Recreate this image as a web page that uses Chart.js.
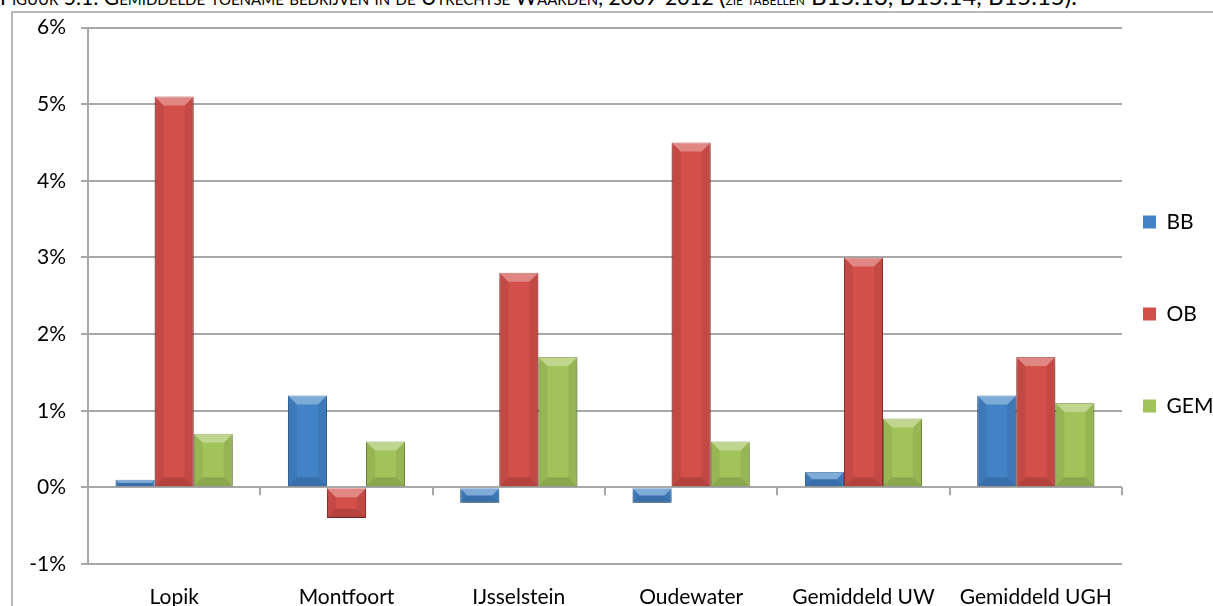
<!DOCTYPE html>
<html>
<head>
<meta charset="utf-8">
<script src="https://cdn.jsdelivr.net/npm/chart.js@4/dist/chart.umd.min.js"></script>
<style>
  html, body { margin: 0; padding: 0; background: #fff; overflow: hidden; width: 1213px; height: 606px; }
  #title {
    position: absolute; left: 0; top: -15px; white-space: nowrap;
    font-family: Lato, sans-serif; font-size: 21px; line-height: 21px;
    font-variant: small-caps; color: #000;
  }
  #title .ref { font-size: 24px; }
  #title .tiny { font-size: 17px; }
  #frame {
    position: absolute; left: 11px; top: 11px; width: 1300px; height: 700px;
    border: 2px solid #b8b8b8;
  }
  #wrap { position: absolute; left: 0; top: 0; width: 1213px; height: 652px; }
</style>
</head>
<body>
<div id="title">Figuur 5.1: Gemiddelde toename bedrijven in de Utrechtse Waarden, 2009-2012 <span class="ref">(<span class="tiny">zie tabellen</span> B15.13, B15.14, B15.15).</span></div>
<div id="frame"></div>
<div id="wrap"><canvas id="toenameChart"></canvas></div>
<script>
// \u200c keeps Lato from joining I and J into one glyph
const categories = ['Lopik', 'Montfoort', 'I\u200cJsselstein', 'Oudewater', 'Gemiddeld UW', 'Gemiddeld UGH']
const bbValues = [0.1, 1.2, -0.2, -0.2, 0.2, 1.2]
const obValues = [5.1, -0.4, 2.8, 4.5, 3.0, 1.7]
const gemValues = [0.7, 0.6, 1.7, 0.6, 0.9, 1.1]
const yMin = -1
const yMax = 6
const yStep = 1

Chart.defaults.font.family = 'Lato, sans-serif'
Chart.defaults.font.size = 21
Chart.defaults.color = '#000'

const gridColor = '#a8a8a8'

// zero line ticks between the categories, bar shadow and bevel
const zeroTicks = {
  id: 'zeroTicks',
  beforeDatasetsDraw(chart) {
    const { ctx, scales: { x, y } } = chart
    const y0 = y.getPixelForValue(0)
    ctx.save()
    ctx.strokeStyle = gridColor
    ctx.lineWidth = 2
    ctx.beginPath()
    for (let i = 0; i < categories.length; i++) {
      const right = i < categories.length - 1
        ? (x.getPixelForValue(i) + x.getPixelForValue(i + 1)) / 2
        : chart.chartArea.right
      ctx.moveTo(Math.round(right), y0)
      ctx.lineTo(Math.round(right), y0 + 8)
    }
    ctx.stroke()
    ctx.restore()
    ctx.save()
    ctx.shadowColor = 'rgba(0,0,0,0.35)'
    ctx.shadowBlur = 8
    ctx.shadowOffsetY = 4
  },
  afterDatasetsDraw(chart) {
    const { ctx } = chart
    ctx.restore()
    chart.data.datasets.forEach((ds, di) => {
      const meta = chart.getDatasetMeta(di)
      meta.data.forEach(bar => {
        const { x, y, base, width } = bar.getProps(['x', 'y', 'base', 'width'], true)
        const l = x - width / 2
        const r = x + width / 2
        const t = Math.min(y, base)
        const b = Math.max(y, base)
        const bv = Math.min(9, (b - t) / 2)
        ctx.save()
        ctx.fillStyle = 'rgba(255,255,255,0.32)'
        ctx.beginPath()
        ctx.moveTo(l, t); ctx.lineTo(r, t); ctx.lineTo(r - bv, t + bv); ctx.lineTo(l + bv, t + bv)
        ctx.fill()
        ctx.fillStyle = 'rgba(0,0,0,0.14)'
        ctx.beginPath()
        ctx.moveTo(l, b); ctx.lineTo(r, b); ctx.lineTo(r - bv, b - bv); ctx.lineTo(l + bv, b - bv)
        ctx.fill()
        ctx.fillStyle = 'rgba(0,0,0,0.07)'
        ctx.beginPath()
        ctx.moveTo(l, t); ctx.lineTo(l + bv, t + bv); ctx.lineTo(l + bv, b - bv); ctx.lineTo(l, b)
        ctx.moveTo(r, t); ctx.lineTo(r - bv, t + bv); ctx.lineTo(r - bv, b - bv); ctx.lineTo(r, b)
        ctx.fill()
        ctx.restore()
      })
    })
  }
}

const ctx = document.getElementById('toenameChart').getContext('2d')

new Chart(ctx, {
  type: 'bar',
  data: {
    labels: categories,
    datasets: [
      { label: 'BB', data: bbValues, backgroundColor: '#4282c6', borderColor: '#2f6aa8', borderWidth: 1 },
      { label: 'OB', data: obValues, backgroundColor: '#d24f4a', borderColor: '#a83a36', borderWidth: 1 },
      { label: 'GEM', data: gemValues, backgroundColor: '#a2c35a', borderColor: '#7d9a40', borderWidth: 1 }
    ]
  },
  options: {
    responsive: true,
    maintainAspectRatio: false,
    animation: false,
    layout: { padding: { top: 26, left: 0, right: 0, bottom: 0 } },
    datasets: {
      bar: { barPercentage: 1, categoryPercentage: 0.68 }
    },
    plugins: {
      tooltip: { enabled: false },
      legend: {
        position: 'right',
        maxWidth: 91,
        labels: {
          boxWidth: 13,
          boxHeight: 13,
          padding: 21,
          font: { size: 21, lineHeight: '71px' },
          generateLabels(chart) {
            const items = Chart.defaults.plugins.legend.labels.generateLabels(chart)
            return items.map(item => Object.assign(item, { text: [item.text], lineWidth: 0 }))
          }
        }
      }
    },
    scales: {
      x: {
        grid: { display: false },
        border: { display: false },
        ticks: { padding: 13, maxRotation: 0, autoSkip: false },
        afterFit(scale) { scale.height = 88 }
      },
      y: {
        min: yMin,
        max: yMax,
        ticks: {
          stepSize: yStep,
          padding: 15,
          callback: v => v + '%'
        },
        grid: { color: gridColor, lineWidth: 2, tickLength: 7 },
        border: { display: true, color: gridColor, width: 2 },
        afterFit(scale) { scale.width = 88 }
      }
    }
  },
  plugins: [zeroTicks]
})
</script>
</body>
</html>
